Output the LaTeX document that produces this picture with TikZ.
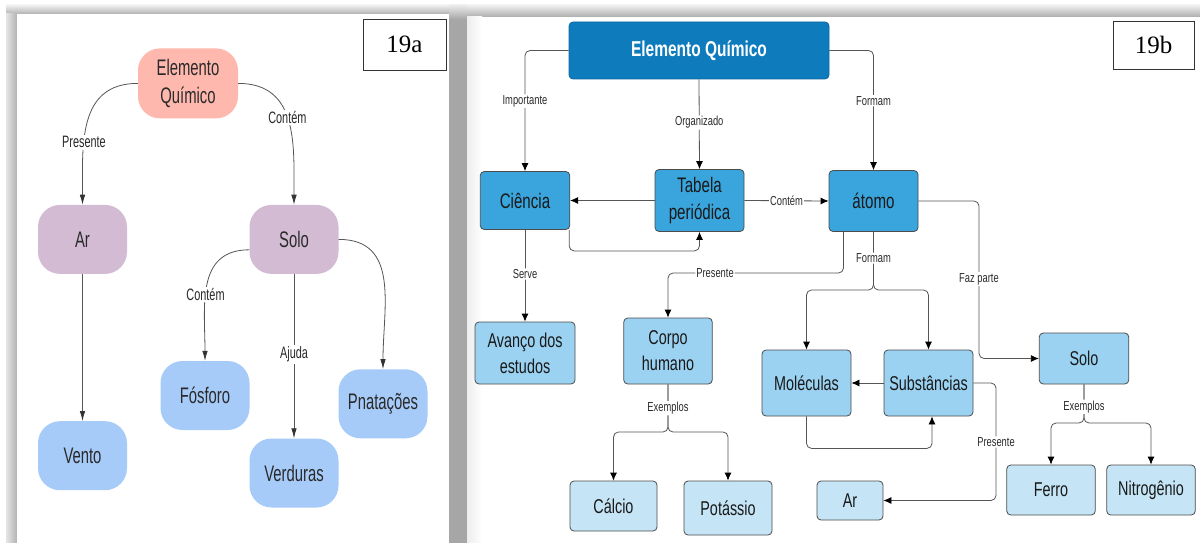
\documentclass[tikz,border=0pt]{standalone}
\usepackage{fontspec}
\setmainfont{Liberation Sans}
\newfontfamily\cnd[FakeStretch=0.72]{Liberation Sans}
\newfontfamily\cnda[FakeStretch=0.66]{Liberation Sans}
\newfontfamily\tms{Liberation Serif}
\usetikzlibrary{arrows.meta}

\definecolor{aRed}{HTML}{FFB8AE}
\definecolor{aPurple}{HTML}{D3BCD3}
\definecolor{aBlue}{HTML}{A6CBF9}
\definecolor{bDark}{HTML}{0E7BBD}
\definecolor{bMid}{HTML}{3AA5DD}
\definecolor{bLight}{HTML}{9BD2F2}
\definecolor{bPale}{HTML}{C5E5F6}
\definecolor{lineGray}{HTML}{555555}
\definecolor{txt}{HTML}{2A2A2A}

\tikzset{
  anode/.style={rounded corners=22pt, minimum width=89pt, minimum height=69pt,
    inner sep=0pt, align=center, text=txt, font=\cnda\fontsize{22.5}{28}\selectfont},
  albl/.style={fill=white, inner sep=1.5pt, text=txt, font=\cnda\fontsize{16.5}{18}\selectfont},
  aarr/.style={draw=lineGray, line width=0.8pt, -{Latex[length=10pt,width=5.5pt,color=black!80]}},
  bnode/.style={draw=black!70, line width=0.8pt, rounded corners=4pt, inner sep=0pt,
    align=center, text=black!90},
  lvone/.style={bnode, fill=bMid, font=\cnd\fontsize{21}{27}\selectfont},
  lvtwo/.style={bnode, fill=bLight, font=\cnd\fontsize{20}{26}\selectfont},
  lvthree/.style={bnode, fill=bPale, font=\cnd\fontsize{20}{26}\selectfont},
  blbl/.style={fill=white, inner sep=1pt, text=txt, font=\cnd\fontsize{13}{15}\selectfont},
  barr/.style={draw=lineGray, line width=0.8pt, rounded corners=5pt,
    -{Latex[length=8pt,width=7pt,color=black]}},
  tag/.style={draw=black!80, line width=0.8pt, fill=white, inner sep=0pt,
    font=\tms\fontsize{25}{25}\selectfont}
}

\begin{document}
\begin{tikzpicture}[x=1pt, y=-1pt]
\useasboundingbox[fill=white] (0,0) rectangle (1200,543);

% ---------- panel frames and their drop shadows ----------
\shade[top color=black!6, bottom color=black!30] (6,5) rectangle (449,14);
\shade[left color=black!10, right color=black!30] (6,14) rectangle (17,543);
\shade[top color=black!8, bottom color=black!36] (449,5) rectangle (467,20);
\fill[black!35] (449,20) rectangle (467,543);
\shade[top color=black!6, bottom color=black!32] (467,5) rectangle (1200,17);
\fill[white] (17,14) rectangle (449,543);
\fill[white] (467,17) rectangle (1200,543);
\shade[left color=black!7, right color=white] (467,17) rectangle (482,543);

% ---------- 19a ----------
\node[tag, minimum width=83pt, minimum height=51pt] (tagA) at (404.5,44.5) {19a};

\node[anode, fill=aRed, minimum width=100pt, minimum height=70pt] (aEQ) at (188,83.4) {Elemento\\Químico};
\node[anode, fill=aPurple] (aAr) at (82.5,239.4) {Ar};
\node[anode, fill=aPurple] (aSolo) at (294,239.4) {Solo};
\node[anode, fill=aBlue] (aFos) at (205,395.5) {Fósforo};
\node[anode, fill=aBlue] (aVento) at (82.5,455.7) {Vento};
\node[anode, fill=aBlue] (aVerd) at (294,473) {Verduras};
\node[anode, fill=aBlue] (aPnat) at (383,403.8) {Pnatações};

\draw[aarr] (aEQ.west) to[out=180, in=90, looseness=1.15]
  node[albl, pos=0.64] {Presente} (aAr.north);
\draw[aarr] (aEQ.east) to[out=0, in=90, looseness=1.15]
  node[albl, pos=0.47] {Contém} (aSolo.north);
\draw[aarr] (aAr.south) -- (aVento.north);
\draw[aarr] ([yshift=-10.4pt]aSolo.west) to[out=180, in=90, looseness=1.15]
  node[albl, pos=0.57] {Contém} (aFos.north);
\draw[aarr] (aSolo.south) -- node[albl, pos=0.49] {Ajuda} (aVerd.north);
\draw[aarr] (aSolo.east) to[out=0, in=90, looseness=1.15] (aPnat.north);

% ---------- 19b ----------
\node[tag, minimum width=81pt, minimum height=48pt] (tagB) at (1153.5,45) {19b};

\node[bnode, draw=bDark!85!black, fill=bDark, text=white,
  minimum width=260pt, minimum height=57pt,
  font=\cnd\bfseries\fontsize{21.5}{25}\selectfont] (bEQ) at (699,50.5) {Elemento Químico};

\node[lvone, minimum width=89.5pt, minimum height=58pt] (bCien) at (525,200.5) {Ciência};
\node[lvone, minimum width=89pt, minimum height=62pt] (bTab) at (699.5,200.5) {Tabela\\periódica};
\node[lvone, minimum width=89pt, minimum height=61pt] (bAto) at (873.5,201) {átomo};

\node[lvtwo, minimum width=100pt, minimum height=62pt] (bAvan) at (525,353) {Avanço dos\\estudos};
\node[lvtwo, minimum width=88.5pt, minimum height=66pt] (bCorpo) at (668,351) {Corpo\\humano};
\node[lvtwo, minimum width=89pt, minimum height=66pt] (bMol) at (806.5,383) {Moléculas};
\node[lvtwo, minimum width=89pt, minimum height=66pt] (bSub) at (928.5,383) {Substâncias};
\node[lvtwo, minimum width=89.5pt, minimum height=51pt] (bSolo) at (1084,358.5) {Solo};

\node[lvthree, minimum width=87pt, minimum height=50pt] (bCal) at (613.5,506) {Cálcio};
\node[lvthree, minimum width=88pt, minimum height=54pt] (bPot) at (728,508) {Potássio};
\node[lvthree, minimum width=66pt, minimum height=39pt] (bAr) at (850,500.5) {Ar};
\node[lvthree, minimum width=88.5pt, minimum height=50pt] (bFer) at (1051,490) {Ferro};
\node[lvthree, minimum width=88.5pt, minimum height=50pt] (bNit) at (1151,490) {Nitrogênio};

% junction and bend points of the elbow connectors
\coordinate (fazParte) at (979,279);
\coordinate (presCorpo) at (715,273);
\coordinate (formSplit) at (873.5,290);
\coordinate (presAr) at (996,442);
\coordinate (corpoSplit) at (668,432);
\coordinate (soloSplit) at (1084,423);

\draw[barr] (bEQ.west) -| node[blbl, pos=0.71] {Importante} (bCien.north);
\draw[barr] (bEQ.south) -- node[blbl, pos=0.48] {Organizado} (bTab.north);
\draw[barr] (bEQ.east) -| node[blbl, pos=0.71] {Formam} (bAto.north);

\draw[barr] (bTab.west) -- (bCien.east);
\draw[barr] ([xshift=-1pt]bCien.south east) -- ++(0,21) -| (bTab.south);
\draw[barr] (bTab.east) -- node[blbl] {Contém} (bAto.west);

\draw[barr] (bCien.south) -- node[blbl, pos=0.48] {Serve} (bAvan.north);

\draw[barr] (bAto.east) -| (fazParte) node[blbl] {Faz parte} |- (bSolo.west);
\draw[barr] ([xshift=-30pt]bAto.south) |- (presCorpo) node[blbl] {Presente} -| (bCorpo.north);

\draw[barr] (bAto.south) -- (formSplit) -| (bMol.north);
\draw[barr] (bAto.south) -- node[blbl, pos=0.45] {Formam} (formSplit) -| (bSub.north);

\draw[barr] (bSub.west) -- (bMol.east);
\draw[barr] (bMol.south) -- ++(0,32) -| ([xshift=3.5pt]bSub.south);
\draw[barr] (bSub.east) -| (presAr) node[blbl] {Presente} |- (bAr.east);

\draw[barr] (bCorpo.south) -- (corpoSplit) -| (bCal.north);
\draw[barr] (bCorpo.south) -- node[blbl, pos=0.5] {Exemplos} (corpoSplit) -| (bPot.north);

\draw[barr] (bSolo.south) -- (soloSplit) -| (bFer.north);
\draw[barr] (bSolo.south) -- node[blbl, pos=0.58] {Exemplos} (soloSplit) -| (bNit.north);
\end{tikzpicture}
\end{document}
